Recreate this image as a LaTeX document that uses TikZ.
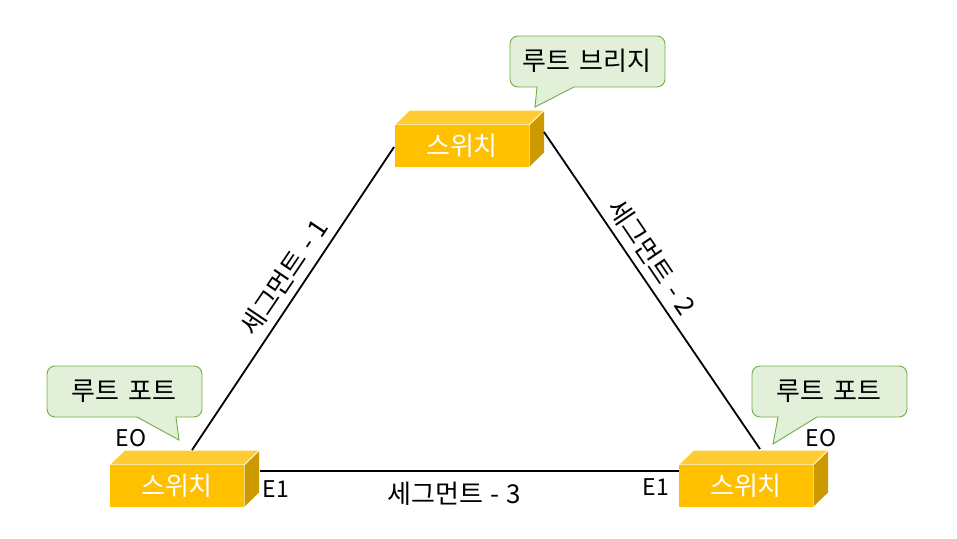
\documentclass[tikz,border=0pt]{standalone}
\usepackage{fontspec}
\setmainfont{Noto Sans CJK KR}
\newcommand{\swbox}[3]{% name, left x, top y of front face
  \fill[swtop] (#2,#3) -- (#2+15,#3-14.5) -- (#2+149,#3-14.5) -- (#2+134,#3) -- cycle;
  \fill[swside] (#2+134,#3) -- (#2+149,#3-14.5) -- (#2+149,#3+27.5) -- (#2+134,#3+42) -- cycle;
  \draw[swedge] (#2,#3) -- (#2+134,#3) -- (#2+149,#3-14.5) (#2+134,#3) -- (#2+134,#3+42);
  \node[swfront] (#1) at (#2+67,#3+21) {스위치};
}
\newcommand{\callout}[8]{% x0,y0,x1,y1, tail a x, tip x, tip y, tail b x
  \draw[callbox] (#5,#4) [rounded corners=8pt] -- (#1,#4) -- (#1,#2) -- (#3,#2) -- (#3,#4) [sharp corners] -- (#8,#4) -- (#6,#7) -- cycle;
}
\tikzset{
  x=1pt,y=-1pt,
  swtop/.style={fill=swTopCol},
  swside/.style={fill=swSideCol},
  swedge/.style={draw=swEdgeCol,line width=1.1pt},
  swfront/.style={fill=swFrontCol,minimum width=134pt,minimum height=42pt,inner sep=0pt,text=white,font=\fontsize{26}{28}\selectfont},
  callbox/.style={draw=calloutEdge,fill=calloutFill,line width=0.9pt},
  calltext/.style={font=\fontsize{26}{28}\selectfont,inner sep=0pt,text=black},
  seglabel/.style={font=\fontsize{26}{28}\selectfont,inner sep=0pt,text=black},
  portlabel/.style={font=\fontsize{23}{25}\selectfont,inner sep=0pt,text=black},
  link/.style={draw=black,line width=1.8pt}
}
\definecolor{swTopCol}{HTML}{FFCD33}
\definecolor{swSideCol}{HTML}{CC9A00}
\definecolor{swEdgeCol}{HTML}{FFF2CC}
\definecolor{swFrontCol}{HTML}{FFC000}
\definecolor{calloutEdge}{HTML}{70AD47}
\definecolor{calloutFill}{HTML}{E2F0D9}
\begin{document}
\begin{tikzpicture}
\useasboundingbox (0,0) rectangle (957,538);
\swbox{swa}{395}{125}
\swbox{swb}{110}{465}
\swbox{swc}{679}{465}
\coordinate (swaL) at (394,147);
\coordinate (swaR) at (544,132);
\coordinate (swbT) at (192,450);
\coordinate (swbR) at (260,471);
\coordinate (swcT) at (760,449);
\coordinate (swcL) at (679,471);
\draw[link] (swaL) -- (swbT);
\draw[link] (swaR) -- (swcT);
\draw[link] (swbR) -- (swcL);
\callout{510}{36}{665}{87}{537}{535}{107}{574}
\callout{47}{366}{202}{417}{137}{179}{440}{176}
\callout{752}{366}{907}{417}{778}{773}{444}{817}
\node[calltext] (cta) at (587,61) {루트\hspace{0.12em} 브리지};
\node[calltext] (ctb) at (124,391) {루트\hspace{0.12em} 포트};
\node[calltext] (ctc) at (829,391) {루트\hspace{0.12em} 포트};
\node[seglabel,rotate=56] (sega) at (284,277) {세그먼트\hspace{0.05em} -\hspace{0.05em} 1};
\node[seglabel,rotate=-56] (segb) at (652,257) {세그먼트\hspace{0.05em} -\hspace{0.05em} 2};
\node[seglabel] (segc) at (454,494) {세그먼트\hspace{0.05em} -\hspace{0.05em} 3};
\node[portlabel] (pa) at (131,438) {EO};
\node[portlabel] (pb) at (276,489) {E1};
\node[portlabel] (pc) at (656,487) {E1};
\node[portlabel] (pd) at (821,438) {EO};
\end{tikzpicture}
\end{document}
